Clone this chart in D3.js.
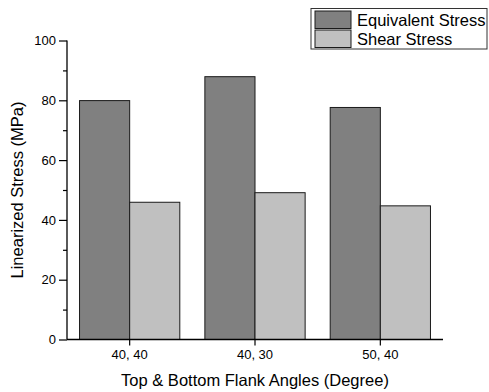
<!DOCTYPE html>
<html>
<head>
<meta charset="utf-8">
<script src="https://cdn.jsdelivr.net/npm/d3@7"></script>
<style>
  html, body { margin: 0; padding: 0; background: #fff; }
  svg text { font-family: "Liberation Sans", Arial, sans-serif; fill: #000; }
</style>
</head>
<body>
<svg id="chart" width="489" height="392"></svg>
<script>
// Flank angle combinations (top, bottom)
const categories = ["40, 40", "40, 30", "50, 40"];
const seriesNames = ["Equivalent Stress", "Shear Stress"];
const equivalentStress = [79.9, 87.9, 77.6];
const shearStress = [45.9, 49.1, 44.7];
const yTicks = [0, 20, 40, 60, 80, 100];
const yMinorTicks = [10, 30, 50, 70, 90];

const seriesColors = ["#808080", "#c0c0c0"];
const rows = categories.map((c, i) => ({ cat: c, values: [equivalentStress[i], shearStress[i]] }));

const svg = d3.select("#chart");
const plot = { left: 67, right: 443, top: 40.5, bottom: 339.5 };

const x = d3.scaleBand().domain(categories).range([plot.left, plot.right])
  .paddingInner(0.2).paddingOuter(0.1);
const xSub = d3.scaleBand().domain(d3.range(seriesNames.length)).range([0, x.bandwidth()]);
const y = d3.scaleLinear().domain([0, 100]).range([plot.bottom, plot.top]);

// Bars
const groups = svg.append("g").selectAll("g").data(rows).join("g")
  .attr("transform", d => `translate(${x(d.cat)},0)`);
groups.selectAll("rect").data(d => d.values).join("rect")
  .attr("x", (d, i) => xSub(i))
  .attr("y", d => y(d))
  .attr("width", xSub.bandwidth())
  .attr("height", d => y(0) - y(d))
  .attr("fill", (d, i) => seriesColors[i])
  .attr("stroke", "#1a1a1a")
  .attr("stroke-width", 1);

// Y axis with minor ticks
const yAxis = svg.append("g").attr("transform", `translate(${plot.left},0)`)
  .call(d3.axisLeft(y).tickValues(yTicks).tickSize(8).tickPadding(3).tickFormat(d3.format("d")));
svg.append("g").attr("transform", `translate(${plot.left},0)`)
  .call(d3.axisLeft(y).tickValues(yMinorTicks).tickSize(4).tickFormat(""))
  .select(".domain").remove();

// X axis
const xAxis = svg.append("g").attr("transform", `translate(0,${plot.bottom})`)
  .call(d3.axisBottom(x).tickSize(6).tickPadding(4).tickSizeOuter(0));

svg.selectAll(".domain").attr("stroke", "#000").attr("stroke-width", 1.3);
svg.selectAll(".tick line").attr("stroke", "#000").attr("stroke-width", 1.2);
svg.selectAll(".tick text").style("font-size", "13px").style("font-family", "'Liberation Sans', Arial, sans-serif");
yAxis.select(".domain").attr("d", `M0,${plot.bottom}V${plot.top}`);
xAxis.select(".domain").attr("d", `M${plot.left},0H${plot.right}`);

// Axis titles
svg.append("text")
  .attr("x", (plot.left + plot.right) / 2).attr("y", 386)
  .attr("text-anchor", "middle").style("font-size", "16.5px")
  .text("Top & Bottom Flank Angles (Degree)");
svg.append("text")
  .attr("transform", `translate(23,${(plot.top + plot.bottom) / 2}) rotate(-90)`)
  .attr("text-anchor", "middle").style("font-size", "16.5px")
  .text("Linearized Stress (MPa)");

// Legend
const legend = svg.append("g");
legend.append("rect").attr("x", 311).attr("y", 8.5).attr("width", 176).attr("height", 40.5)
  .attr("fill", "#fff").attr("stroke", "#333").attr("stroke-width", 1);
const items = legend.selectAll("g.item").data(seriesNames).join("g").attr("class", "item")
  .attr("transform", (d, i) => `translate(315,${11 + i * 19})`);
items.append("rect").attr("width", 36).attr("height", 17.5)
  .attr("fill", (d, i) => seriesColors[i]).attr("stroke", "#1a1a1a").attr("stroke-width", 1);
items.append("text").attr("x", 42).attr("y", 15).style("font-size", "16.5px").text(d => d);
</script>
</body>
</html>
